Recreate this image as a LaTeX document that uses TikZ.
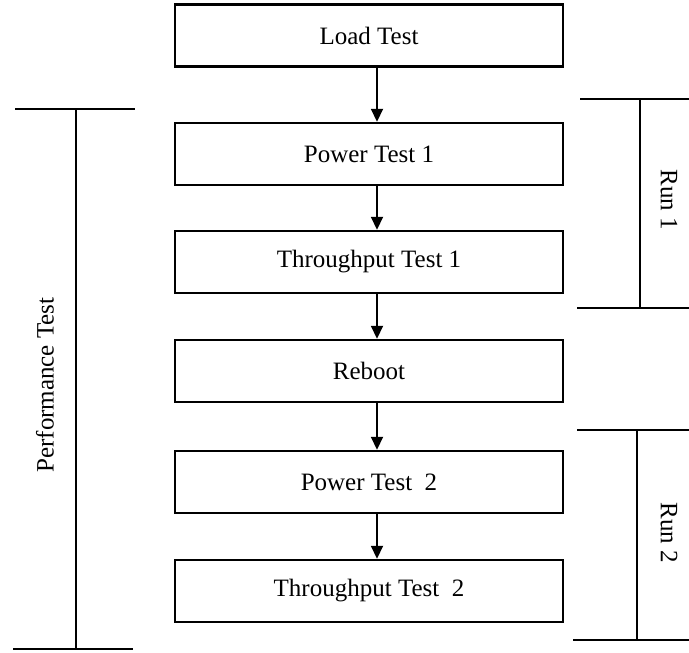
\documentclass[tikz,border=0pt]{standalone}
\usepackage{fontspec}
\setmainfont{Liberation Serif}
\usetikzlibrary{arrows.meta}
\newcommand{\drawthick}{\draw[line width=2pt]}
\newcommand{\stepnode}[3]{\node[testbox] (#1) at (369,#2) {#3};}
\tikzset{
  testbox/.style={draw,line width=2.4pt,minimum width=388pt,minimum height=62pt,inner sep=0pt,font=\fontsize{25}{29}\selectfont},
  flow/.style={line width=1.8pt,-{Triangle[length=13pt,width=12pt]}},
  sidelabel/.style={font=\fontsize{25}{29}\selectfont,inner sep=0pt}
}
\begin{document}
\begin{tikzpicture}[x=1pt,y=-1pt]
\useasboundingbox (0,0) rectangle (689,653);
\stepnode{load}{35.5}{Load Test}\stepnode{pow1}{154}{Power Test 1}\stepnode{thr1}{262}{Throughput Test 1}
\stepnode{reboot}{371}{Reboot}\stepnode{pow2}{482}{Power Test\ \ 2}\stepnode{thr2}{591}{Throughput Test\ \ 2}
\foreach \a/\b in {load/pow1,pow1/thr1,thr1/reboot,reboot/pow2,pow2/thr2}{
  \draw[flow] ([xshift=8pt]\a.south) -- ([xshift=8pt]\b.north);
}
% performance test bracket
\drawthick (15,109)--(135,109);
\drawthick (76,109)--(76,649);
\drawthick (13,649)--(133,649);
\node[sidelabel,rotate=90] (perf) at (45,385) {Performance Test};
% run 1
\drawthick (580,99)--(689,99);
\drawthick (640,99)--(640,308);
\drawthick (577,308)--(689,308);
\node[sidelabel,rotate=-90] (run1) at (669,200) {Run 1};
% run 2
\drawthick (577,430)--(689,430);
\drawthick (637,430)--(637,640);
\drawthick (573,640)--(689,640);
\node[sidelabel,rotate=-90] (run2) at (669,533) {Run 2};
\end{tikzpicture}
\end{document}
